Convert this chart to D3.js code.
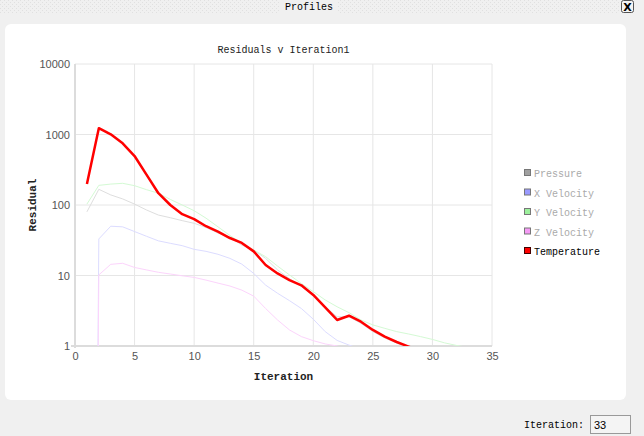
<!DOCTYPE html>
<html><head><meta charset="utf-8">
<script src="https://cdn.jsdelivr.net/npm/d3@7"></script>
<style>html,body{margin:0;padding:0;background:#f0f0f0;}svg{display:block;}</style>
</head><body>
<script>
const iterations = d3.range(1, 34);
const pressure = [80,167,139,122,103,85,72,66,60,55,48,40,35,27,23,17.5,12,9,7,5.2,3.6,2.6,2.6,2.1,1.6,1.3,1.1,0.95,0.8,0.7,0.6,0.5,0.45];
const xVelocity = [1e-20,33,50,49,42,36,31,28.6,26.5,23.5,22,20,17.5,14.5,10.7,7.3,5.6,4.4,3.4,2.4,1.6,1.2,1.03,0.9,0.8,0.7,0.6,0.5,0.45,0.4,0.35,0.3,0.28];
const yVelocity = [103,190,198,203,188,165,147,120,100,83,65,49,37,28.6,23,18.5,13.6,10.2,7.7,5.9,4.5,3.6,2.97,2.34,1.99,1.78,1.6,1.48,1.36,1.24,1.11,1.02,0.95];
const zVelocity = [1e-20,10.2,14.4,14.9,13,12,11.1,10.5,9.9,9.4,8.6,7.8,7.1,6.2,5.1,3.4,2.34,1.69,1.36,1.19,1.07,1.0,0.9,0.8,0.7,0.6,0.55,0.5,0.45,0.4,0.35,0.3,0.28];
const temperature = [199,1230,1006,750,495,270,147,100,74,63,50,42,34,29,22,14.1,10.7,8.6,7.25,5.3,3.54,2.34,2.69,2.21,1.69,1.36,1.14,0.98,0.85,0.75,0.65,0.6,0.55];
const seriesNames = ["Pressure","X Velocity","Y Velocity","Z Velocity","Temperature"];
const seriesData = [pressure, xVelocity, yVelocity, zVelocity, temperature];
const lineColors = ["#dedede","#dcdcff","#d4fad4","#fcd4fc","#ff0000"];
const swatchColors = ["#a0a0a0","#9a9aff","#9cf09c","#f59af5","#ff0000"];
const xTicks = [0,5,10,15,20,25,30,35];
const yTicks = [1,10,100,1000,10000];

const W = 644, H = 436;
const svg = d3.select("body").append("svg").attr("width", W).attr("height", H);

const defs = svg.append("defs");
const pat = defs.append("pattern").attr("id","dots").attr("width",4).attr("height",4).attr("patternUnits","userSpaceOnUse");
pat.append("rect").attr("width",4).attr("height",4).attr("fill","#f0f0f0");
pat.append("rect").attr("x",0).attr("y",0).attr("width",1).attr("height",1).attr("fill","#e0e0e0");
pat.append("rect").attr("x",2).attr("y",2).attr("width",1).attr("height",1).attr("fill","#e0e0e0");
svg.append("rect").attr("x",0).attr("y",0).attr("width",620).attr("height",14).attr("fill","url(#dots)");
svg.append("rect").attr("x",280).attr("y",0).attr("width",58).attr("height",14).attr("fill","#f0f0f0");
svg.append("text").attr("x",309).attr("y",10).attr("text-anchor","middle")
  .attr("font-family","Liberation Mono, monospace").attr("font-size",10).attr("fill","#000").text("Profiles");
svg.append("rect").attr("x",621.5).attr("y",0.5).attr("width",12).attr("height",12).attr("rx",2)
  .attr("fill","#f4f4f4").attr("stroke","#555");
svg.append("text").attr("x",627.5).attr("y",10.5).attr("text-anchor","middle")
  .attr("font-family","DejaVu Sans, sans-serif").attr("font-weight","bold").attr("font-size",11).attr("fill","#000").text("X");

svg.append("rect").attr("x",5).attr("y",24).attr("width",621).attr("height",376).attr("rx",6).attr("fill","#ffffff");

const L = 75, R = 492, T = 64, B = 346;
const x = d3.scaleLinear().domain([0,35]).range([L,R]);
const y = d3.scaleLog().domain([1,10000]).range([B,T]);

const g = svg.append("g");
g.selectAll(".vg").data(xTicks).enter().append("line")
  .attr("x1",d=>x(d)).attr("x2",d=>x(d)).attr("y1",T).attr("y2",B)
  .attr("stroke","#e6e6e6").attr("stroke-width",1);
g.selectAll(".hg").data(yTicks).enter().append("line")
  .attr("x1",L).attr("x2",R).attr("y1",d=>y(d)).attr("y2",d=>y(d))
  .attr("stroke","#e6e6e6").attr("stroke-width",1);
g.append("line").attr("x1",L).attr("x2",L).attr("y1",T).attr("y2",B+2).attr("stroke","#dcdcdc").attr("stroke-width",2);
g.append("line").attr("x1",L-4).attr("x2",R).attr("y1",B).attr("y2",B).attr("stroke","#dcdcdc").attr("stroke-width",2);

const xAxis = d3.axisBottom(x).tickValues(xTicks).tickSize(0).tickPadding(6).tickFormat(d3.format("d"));
const xa = svg.append("g").attr("transform",`translate(0,${B})`).call(xAxis);
xa.select(".domain").remove();
xa.selectAll("text").attr("font-family","Liberation Sans, Arial, sans-serif").attr("font-size",11).attr("fill","#555");
const yAxis = d3.axisLeft(y).tickValues(yTicks).tickSize(0).tickPadding(5).tickFormat(d3.format("d"));
const ya = svg.append("g").attr("transform",`translate(${L},0)`).call(yAxis);
ya.select(".domain").remove();
ya.selectAll("text").attr("font-family","Liberation Sans, Arial, sans-serif").attr("font-size",11).attr("fill","#555");

defs.append("clipPath").attr("id","plotclip").append("rect").attr("x",L).attr("y",T).attr("width",R-L).attr("height",B-T);

const line = d3.line().x((d,i)=>x(iterations[i])).y(d=>y(d));
const lines = svg.append("g").attr("clip-path","url(#plotclip)");
seriesData.forEach((s,k)=>{
  lines.append("path").datum(s).attr("d",line).attr("fill","none")
    .attr("stroke",lineColors[k]).attr("stroke-width",k===4?2.5:1).attr("stroke-linejoin","round");
});

svg.append("text").attr("x",(L+R)/2).attr("y",53).attr("text-anchor","middle")
  .attr("font-family","Liberation Mono, monospace").attr("font-size",10).attr("fill","#222").text("Residuals v Iteration1");
svg.append("text").attr("x",(L+R)/2).attr("y",380).attr("text-anchor","middle")
  .attr("font-family","Liberation Mono, monospace").attr("font-weight","bold").attr("font-size",11).attr("fill","#222").text("Iteration");
svg.append("text").attr("transform",`translate(36,${(T+B)/2}) rotate(-90)`).attr("text-anchor","middle")
  .attr("font-family","Liberation Mono, monospace").attr("font-weight","bold").attr("font-size",11).attr("fill","#222").text("Residual");

const lg = svg.append("g");
seriesNames.forEach((n,k)=>{
  const yy = 174 + k*19.5;
  lg.append("rect").attr("x",524.5).attr("y",yy-4.5).attr("width",6).attr("height",6)
    .attr("fill",swatchColors[k]).attr("stroke",k===4?"#400":"#777").attr("stroke-width",1);
  lg.append("text").attr("x",534).attr("y",yy+3).attr("font-family","Liberation Mono, monospace")
    .attr("font-size",10).attr("fill",k===4?"#000":"#aaa").text(n);
});

svg.append("text").attr("x",584).attr("y",428).attr("text-anchor","end")
  .attr("font-family","Liberation Mono, monospace").attr("font-size",10).attr("fill","#000").text("Iteration:");
svg.append("rect").attr("x",590.5).attr("y",415.5).attr("width",40).attr("height",18).attr("fill","#f4f4f4").attr("stroke","#999");
svg.append("text").attr("x",594).attr("y",428.5).attr("font-family","Liberation Sans, Arial, sans-serif")
  .attr("font-size",11).attr("fill","#000").text("33");
</script>
</body></html>
